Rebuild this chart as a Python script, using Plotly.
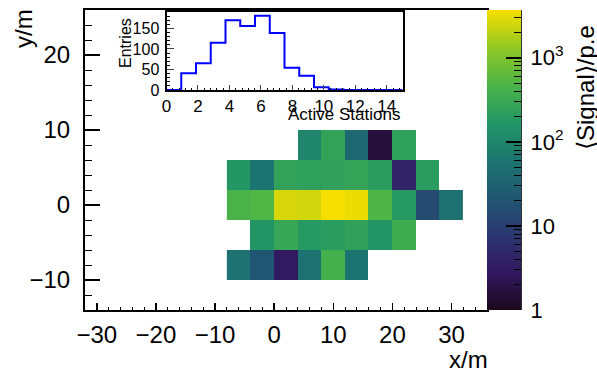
import numpy as np
import plotly.graph_objects as go

W, H = 597, 371

# ---- data: mean signal per station cell (p.e.) ----
x_centers = [-6, -2, 2, 6, 10, 14, 18, 22, 26, 30]
y_centers = [-8, -4, 0, 4, 8]
signal_row_ym8 = [52, 21, 3, 52, 400, 55, None, None, None, None]
signal_row_ym4 = [None, 160, 290, 190, 210, 240, 160, 350, None, None]
signal_row_y0 = [460, 520, 2700, 2550, 3700, 3300, 500, 190, 15, 52]
signal_row_y4 = [170, 56, 250, 230, 240, 270, 210, 4, 210, None]
signal_row_y8 = [None, None, None, 100, 260, 40, 1.6, 230, None, None]

# ---- data: inset histogram of active stations ----
station_edges = [0, 0.9375, 1.875, 2.8125, 3.75, 4.6875, 5.625, 6.5625, 7.5,
                 8.4375, 9.375, 10.3125, 11.25, 12.1875, 13.125, 14.0625, 15]
station_counts = [0, 41, 65, 115, 170, 156, 181, 139, 54, 35, 7, 1, 0, 0, 0, 0]

# colour-axis tick labels
cb_major_vals = [1, 10, 100, 1000]
cb_major_text = ["1", "10", "10<sup>2</sup>", "10<sup>3</sup>"]
cb_minor_vals = [2, 3, 4, 5, 6, 7, 8, 9, 20, 30, 40, 50, 60, 70, 80, 90,
                 200, 300, 400, 500, 600, 700, 800, 900, 2000, 3000]

FONT = "Liberation Sans"

# ROOT kViridis palette
viridis_root = [
    (26, 9, 30), (51, 24, 96), (43, 55, 112), (33, 87, 114), (28, 118, 112),
    (35, 150, 101), (74, 180, 72), (144, 200, 35), (246, 222, 0)]
colorscale = [[i / 8, "rgb(%d,%d,%d)" % c] for i, c in enumerate(viridis_root)]

rows = [signal_row_ym8, signal_row_ym4, signal_row_y0, signal_row_y4, signal_row_y8]
z = np.array([[np.nan if v is None else v for v in r] for r in rows], dtype=float)
zlog = np.log10(z)
zmax_log = float(np.nanmax(zlog))


def px(p):
    return p / W


def py(p):
    return 1 - p / H


fig = go.Figure()

fig.add_trace(go.Heatmap(
    x=x_centers, y=y_centers, z=zlog, zmin=0, zmax=zmax_log,
    colorscale=colorscale, showscale=False, hoverinfo="skip",
    xaxis="x", yaxis="y"))

# colour bar ramp drawn as its own small heatmap on a log10-value axis
ramp = np.linspace(0, zmax_log, 300)
fig.add_trace(go.Heatmap(
    x=[0.5], y=ramp, z=[[v] for v in ramp], zmin=0, zmax=zmax_log,
    colorscale=colorscale, showscale=False, hoverinfo="skip",
    xaxis="x3", yaxis="y3"))

# inset histogram
hx = list(station_edges)
hy = list(station_counts) + [station_counts[-1]]
fig.add_trace(go.Scatter(
    x=hx, y=hy, mode="lines", line=dict(color="#0000ff", width=2, shape="hv"),
    xaxis="x2", yaxis="y2", showlegend=False, hoverinfo="skip"))

main_common = dict(showline=True, linecolor="black", linewidth=2, mirror=True,
                   ticks="inside", tickwidth=1.5, tickcolor="black",
                   showgrid=False, zeroline=False, automargin=False,
                   tickfont=dict(family=FONT, size=24, color="black"))

fig.update_layout(
    width=W, height=H,
    margin=dict(l=0, r=0, t=0, b=0, pad=0, autoexpand=False),
    paper_bgcolor="white", plot_bgcolor="white",
    showlegend=False,
    xaxis=dict(domain=[px(85), px(487)], range=[-32, 36], anchor="y",
               dtick=10, tick0=0, ticklen=7,
               minor=dict(dtick=2, tick0=0, ticks="inside", ticklen=3.5,
                          tickwidth=1, tickcolor="black"),
               ticklabelstandoff=2, **main_common),
    yaxis=dict(domain=[py(310), py(10)], range=[-14, 26], anchor="x",
               dtick=10, tick0=0, ticklen=15,
               minor=dict(dtick=2, tick0=0, ticks="inside", ticklen=7,
                          tickwidth=1, tickcolor="black"),
               ticklabelstandoff=8, **main_common),
    xaxis2=dict(domain=[px(166.5), px(402.5)], range=[0, 15], anchor="y2",
                showline=True, linecolor="black", linewidth=2, mirror=True,
                ticks="inside", ticklen=5, tickwidth=1, dtick=2, tick0=0,
                minor=dict(dtick=0.4, tick0=0, ticks="inside", ticklen=2.5,
                           tickwidth=1, tickcolor="black"),
                showgrid=False, zeroline=False, ticklabelstandoff=0,
                automargin=False,
                tickfont=dict(family=FONT, size=17, color="black")),
    yaxis2=dict(domain=[py(90), py(12)], range=[0, 190], anchor="x2",
                showline=True, linecolor="black", linewidth=2, mirror=True,
                ticks="inside", ticklen=7, tickwidth=1, dtick=50, tick0=0,
                minor=dict(dtick=10, tick0=0, ticks="inside", ticklen=3.5,
                           tickwidth=1, tickcolor="black"),
                showgrid=False, zeroline=False, ticklabelstandoff=2,
                automargin=False,
                tickfont=dict(family=FONT, size=16, color="black")),
    xaxis3=dict(domain=[px(487), px(521)], range=[0, 1], anchor="y3",
                visible=False, fixedrange=True, automargin=False),
    yaxis3=dict(domain=[py(310), py(10)], range=[0, zmax_log], anchor="x3",
                side="right", showline=True, linecolor="#333333", linewidth=1,
                ticks="inside", ticklen=15, tickwidth=1.5, tickcolor="black",
                tickmode="array", tickvals=list(np.log10(cb_major_vals)),
                ticktext=cb_major_text,
                minor=dict(tickmode="array", tickvals=list(np.log10(cb_minor_vals)),
                           ticks="inside", ticklen=7, tickwidth=1,
                           tickcolor="black"),
                showgrid=False, zeroline=False, ticklabelstandoff=4,
                automargin=False,
                tickfont=dict(family=FONT, size=22, color="black")),
    annotations=[
        dict(text="x/m", x=px(490), y=py(359), xref="paper", yref="paper",
             xanchor="right", yanchor="middle", showarrow=False,
             font=dict(family=FONT, size=24, color="black")),
        dict(text="y/m", x=px(23), y=py(29), xref="paper", yref="paper",
             xanchor="center", yanchor="middle", textangle=-90, showarrow=False,
             font=dict(family=FONT, size=24, color="black")),
        dict(text="Entries", x=px(125), y=py(43), xref="paper", yref="paper",
             xanchor="center", yanchor="middle", textangle=-90, showarrow=False,
             font=dict(family=FONT, size=16, color="black")),
        dict(text="Active Stations", x=px(402), y=py(114), xref="paper",
             yref="paper", xanchor="right", yanchor="middle", showarrow=False,
             font=dict(family=FONT, size=17, color="black")),
        dict(text="\u27e8Signal\u27e9/p.e", x=px(585), y=py(88), xref="paper",
             yref="paper", xanchor="center", yanchor="middle", textangle=-90,
             showarrow=False, font=dict(family=FONT, size=24, color="black")),
    ],
)

fig.write_html(
    "out.html",
    config={"displayModeBar": False, "staticPlot": True},
    post_script=("document.body.style.margin='0px';"
                 "document.body.style.padding='0px';"
                 "document.body.style.overflow='hidden';"))
